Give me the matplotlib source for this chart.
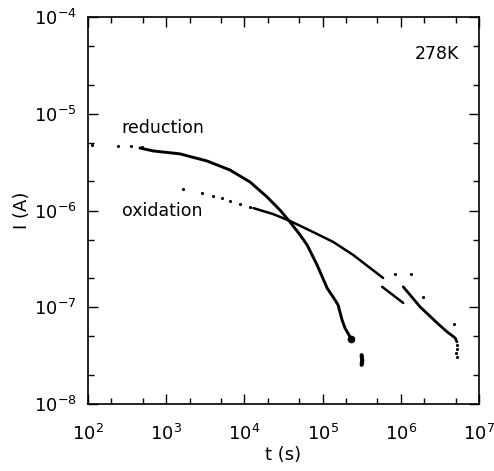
import numpy as np
import matplotlib
matplotlib.use("Agg")
import matplotlib.pyplot as plt
from matplotlib.ticker import LogLocator, NullFormatter

# reduction current: sparse early readings, then the dense decay
red_dots_t = [112, 240, 360, 490]
red_dots_i = [4.8e-6, 4.6e-6, 4.6e-6, 4.55e-6]
red_t = [462, 678, 1500, 3324, 6550, 1.18e4, 1.95e4, 2.85e4, 3.83e4, 5.14e4,
         6.32e4, 8.48e4, 1.14e5, 1.44e5, 1.57e5, 1.77e5, 1.93e5, 2.24e5, 2.38e5]
red_i = [4.43e-6, 4.13e-6, 3.85e-6, 3.25e-6, 2.62e-6, 1.97e-6, 1.38e-6, 1.01e-6, 7.6e-7, 5.6e-7,
         4.41e-7, 2.74e-7, 1.58e-7, 1.19e-7, 1.06e-7, 7.4e-8, 6.1e-8, 4.94e-8, 4.6e-8]
red_tail_t = [3.15e5, 3.2e5, 3.15e5]
red_tail_i = [3.2e-8, 2.8e-8, 2.55e-8]

# oxidation current
ox_dots_t = [1640, 2870, 3970, 5170, 6550, 8790, 1.18e4]
ox_dots_i = [1.67e-6, 1.52e-6, 1.42e-6, 1.35e-6, 1.26e-6, 1.17e-6, 1.09e-6]
ox_t = [1.3e4, 1.58e4, 2.32e4, 3.83e4, 7.53e4, 1.36e5, 2.45e5, 4.04e5, 5.92e5]
ox_i = [1.06e-6, 1.01e-6, 9.2e-7, 7.8e-7, 6.0e-7, 4.74e-7, 3.48e-7, 2.55e-7, 2.01e-7]
ox_seg2_t = [5.75e5, 1.07e6]
ox_seg2_i = [1.63e-7, 1.11e-7]
ox_seg3_t = [1.07e6, 1.76e6, 2.9e6, 3.9e6, 4.93e6, 5.2e6]
ox_seg3_i = [1.63e-7, 1.01e-7, 6.9e-8, 5.57e-8, 4.83e-8, 4.4e-8]
ox_scatter_t = [8.4e5, 1.35e6, 1.92e6, 4.79e6, 5.24e6, 5.2e6, 5.24e6, 5.1e6]
ox_scatter_i = [2.21e-7, 2.21e-7, 1.28e-7, 6.7e-8, 4.1e-8, 3.7e-8, 3.1e-8, 3.4e-8]

fig = plt.figure(figsize=(4.94, 4.71), dpi=100)
ax = fig.add_axes([0.178, 0.142, 0.792, 0.822])

ax.plot(red_dots_t, red_dots_i, "k.", ms=2.5)
ax.plot(red_t, red_i, "k-", lw=2.1, solid_capstyle="round", solid_joinstyle="round")
ax.plot(red_tail_t, red_tail_i, "k-", lw=3.0, solid_capstyle="round")
ax.plot([2.33e5], [4.7e-8], "ko", ms=4.5)

ax.plot(ox_dots_t, ox_dots_i, "k.", ms=2.5)
ax.plot(ox_t, ox_i, "k-", lw=1.8, solid_capstyle="round", solid_joinstyle="round")
ax.plot(ox_seg2_t, ox_seg2_i, "k-", lw=1.8, solid_capstyle="round")
ax.plot(ox_seg3_t, ox_seg3_i, "k-", lw=2.0, solid_capstyle="round", solid_joinstyle="round")
ax.plot(ox_scatter_t, ox_scatter_i, "k.", ms=2.5)

ax.set_xscale("log")
ax.set_yscale("log")
ax.set_xlim(1e2, 1e7)
ax.set_ylim(1e-8, 1e-4)

for a in (ax.xaxis, ax.yaxis):
    a.set_major_locator(LogLocator(base=10, numticks=10))
    a.set_minor_locator(LogLocator(base=10, subs=(2.0, 5.0), numticks=10))
    a.set_minor_formatter(NullFormatter())
ax.tick_params(which="both", direction="in", top=True, right=True,
               labelsize=13, width=1.0)
ax.tick_params(which="major", length=7)
ax.tick_params(which="minor", length=4)
ax.tick_params(axis="x", which="major", pad=14)
ax.tick_params(axis="y", which="major", pad=8)
for s in ax.spines.values():
    s.set_linewidth(1.2)

ax.set_xlabel("t (s)", fontsize=13, labelpad=2)
ax.set_ylabel("I (A)", fontsize=13, labelpad=2)

ax.text(270, 7.1e-6, "reduction", fontsize=12.5, va="center")
ax.text(270, 1.0e-6, "oxidation", fontsize=12.5, va="center")
ax.text(1.5e6, 4.1e-5, "278K", fontsize=12.5, va="center")

fig.savefig("out.png", dpi=100)
